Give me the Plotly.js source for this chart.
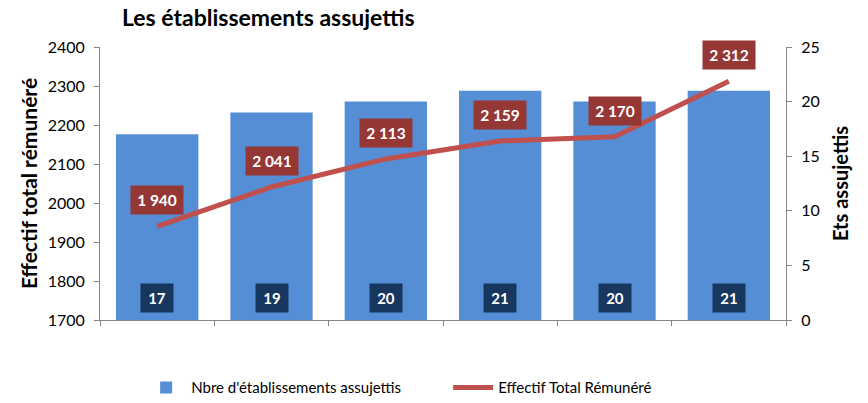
<!DOCTYPE html>
<html>
<head>
<meta charset="utf-8">
<script src="https://cdn.plot.ly/plotly-3.0.1.min.js"></script>
<style>html,body{margin:0;padding:0;background:#fff;}#chart{width:868px;height:403px;}</style>
</head>
<body>
<div id="chart"></div>
<script>
const categories = ["A1", "A2", "A3", "A4", "A5", "A6"];
const etsAssujettis = [17, 19, 20, 21, 20, 21];
const effectifTotal = [1940, 2041, 2113, 2159, 2170, 2312];
const barName = "Nbre d'établissements assujettis";
const lineName = "Effectif Total Rémunéré";

const fmt = v => String(v).replace(/\B(?=(\d{3})+(?!\d))/g, ' ');
const FONT = 'Lato, "Open Sans", sans-serif';

const traces = [
  {
    type: 'bar', x: categories, y: etsAssujettis, name: barName,
    marker: {color: '#558ED5'}, yaxis: 'y', hoverinfo: 'none'
  },
  {
    type: 'scatter', mode: 'lines', x: categories, y: effectifTotal, name: lineName,
    line: {color: '#C0504D', width: 5}, yaxis: 'y2', hoverinfo: 'none'
  }
];

const annotations = [];
categories.forEach((c, i) => {
  annotations.push({
    x: c, y: 0, xref: 'x', yref: 'y', yshift: 22, showarrow: false,
    text: '<b>' + etsAssujettis[i] + '</b>',
    font: {family: FONT, size: 15, color: '#ffffff'},
    bgcolor: '#17375E', borderpad: 5, width: 22, height: 18
  });
  annotations.push({
    x: c, y: effectifTotal[i], xref: 'x', yref: 'y2', yshift: 26, showarrow: false,
    text: '<b>' + fmt(effectifTotal[i]) + '</b>',
    font: {family: FONT, size: 15.5, color: '#ffffff'},
    bgcolor: '#953735', borderpad: 5, width: 42, height: 18
  });
});

const axisCommon = {
  showline: true, linecolor: '#868686', linewidth: 1,
  ticks: 'outside', ticklen: 5, tickcolor: '#868686',
  showgrid: false, zeroline: false,
  tickfont: {family: FONT, size: 16, color: '#000'}
};

const layout = {
  width: 868, height: 403,
  margin: {l: 100, r: 82, t: 47, b: 83},
  paper_bgcolor: '#ffffff', plot_bgcolor: '#ffffff',
  font: {family: FONT, color: '#000'},
  title: {
    text: '<b>Les établissements assujettis</b>',
    font: {family: FONT, size: 23, color: '#000'},
    xref: 'paper', x: 0.032, xanchor: 'left',
    yref: 'container', y: 0.955, yanchor: 'middle'
  },
  bargap: 0.28,
  showlegend: true,
  legend: {
    orientation: 'h', xref: 'paper', x: 0.06, xanchor: 'left',
    yref: 'container', y: 0.038, yanchor: 'middle',
    itemwidth: 40, entrywidth: 252, entrywidthmode: 'pixels',
    font: {family: FONT, size: 15, color: '#000'}, traceorder: 'normal'
  },
  xaxis: Object.assign({}, axisCommon, {
    type: 'category', tickson: 'boundaries', showticklabels: false
  }),
  yaxis: Object.assign({}, axisCommon, {
    side: 'right', range: [0, 25], dtick: 5, ticklabelstandoff: 6,
    title: {text: '<b>Ets assujettis</b>', font: {family: FONT, size: 20, color: '#000'}, standoff: 15}
  }),
  yaxis2: Object.assign({}, axisCommon, {
    side: 'left', overlaying: 'y', range: [1700, 2400], dtick: 100, ticklabelstandoff: 6,
    title: {text: '<b>Effectif total rémunéré</b>', font: {family: FONT, size: 21, color: '#000'}, standoff: 4}
  }),
  annotations: annotations
};

Plotly.newPlot('chart', traces, layout, {displayModeBar: false, staticPlot: true});
</script>
</body>
</html>
